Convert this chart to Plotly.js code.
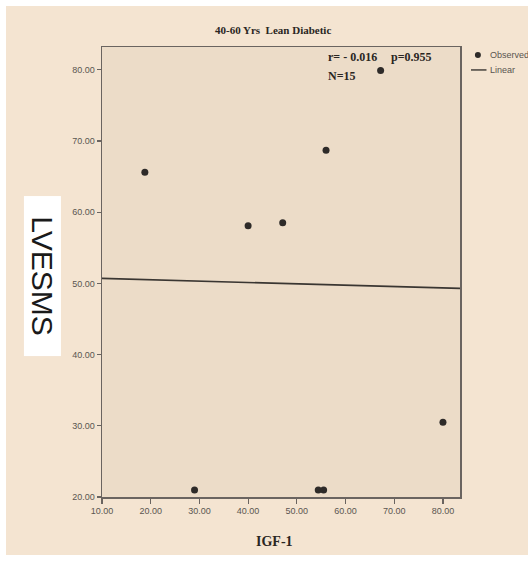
<!DOCTYPE html>
<html>
<head>
<meta charset="utf-8">
<script src="https://cdn.plot.ly/plotly-3.0.1.min.js"></script>
<style>
  html, body { margin: 0; padding: 0; background: #ffffff; width: 528px; height: 561px; overflow: hidden; }
  #chart { position: absolute; left: 6px; top: 6px; width: 522px; height: 549px; }
</style>
</head>
<body>
<div id="chart"></div>
<script>
// Observed points (IGF-1 vs LVESMS)
const igf1   = [18.8, 29.0, 40.0, 47.1, 54.4, 55.5, 56.0, 67.2, 80.0];
const lvesms = [65.6, 21.0, 58.1, 58.5, 21.0, 21.0, 68.7, 79.9, 30.5];
// Linear fit line end points
const fitX = [10, 83.5];
const fitY = [50.7, 49.3];
// Tick values
const xTicks = [10, 20, 30, 40, 50, 60, 70, 80];
const yTicks = [20, 30, 40, 50, 60, 70, 80];

const titleText = "40-60 Yrs  Lean Diabetic";
const xTitle = "IGF-1";
const yTitle = "LVESMS";
const statR = "r= - 0.016";
const statP = "p=0.955";
const statN = "N=15";

const axisCol = "#6a6460";
const tickFont = {family: "'Liberation Sans Narrow', 'Liberation Sans', Arial, sans-serif", size: 9, color: "#5a5550"};
const serifBold = "'Liberation Serif', 'Times New Roman', serif";

const traces = [
  {
    x: fitX, y: fitY, type: "scatter", mode: "lines", name: "Linear",
    line: {color: "#3a3632", width: 1.6}, hoverinfo: "skip"
  },
  {
    x: igf1, y: lvesms, type: "scatter", mode: "markers", name: "Observed",
    marker: {color: "#2e2b29", size: 7, line: {width: 0}}
  }
];

const layout = {
  width: 522, height: 549,
  margin: {l: 96, r: 68, t: 41, b: 58},
  paper_bgcolor: "#f4e4d1",
  plot_bgcolor: "#ecdcc8",
  showlegend: false,
  xaxis: {
    range: [10, 83.5], tickvals: xTicks, tickformat: ".2f",
    showgrid: false, zeroline: false,
    showline: true, mirror: true, linecolor: axisCol, linewidth: 1.5,
    ticks: "outside", ticklen: 5, tickwidth: 1.2, tickcolor: axisCol,
    tickfont: tickFont
  },
  yaxis: {
    range: [20, 83.2], tickvals: yTicks, tickformat: ".2f",
    showgrid: false, zeroline: false,
    showline: true, mirror: true, linecolor: axisCol, linewidth: 1.5,
    ticks: "outside", ticklen: 4, tickwidth: 1.2, tickcolor: axisCol,
    tickfont: tickFont
  },
  annotations: [
    {text: "<b>" + titleText + "</b>", xref: "paper", yref: "paper", x: 0.478, y: 1.038,
     xanchor: "center", yanchor: "middle", showarrow: false,
     font: {family: serifBold, size: 11, color: "#2a2623"}},
    {text: "<b>" + xTitle + "</b>", xref: "paper", yref: "paper", x: 0.483, y: -0.098,
     xanchor: "center", yanchor: "middle", showarrow: false,
     font: {family: serifBold, size: 14, color: "#2a2623"}},
    {text: yTitle, xref: "paper", yref: "paper", x: -0.165, y: 0.49,
     xanchor: "center", yanchor: "middle", showarrow: false, textangle: 90,
     width: 159, height: 36, bgcolor: "#ffffff", borderpad: 0,
     font: {family: "'Liberation Sans', Arial, sans-serif", size: 30, color: "#1a1a1a"}},
    {text: "<b>" + statR + "</b>", xref: "paper", yref: "paper", x: 0.626, y: 0.978,
     xanchor: "left", yanchor: "middle", showarrow: false,
     font: {family: serifBold, size: 12, color: "#2a2623"}},
    {text: "<b>" + statP + "</b>", xref: "paper", yref: "paper", x: 0.802, y: 0.978,
     xanchor: "left", yanchor: "middle", showarrow: false,
     font: {family: serifBold, size: 12, color: "#2a2623"}},
    {text: "<b>" + statN + "</b>", xref: "paper", yref: "paper", x: 0.626, y: 0.936,
     xanchor: "left", yanchor: "middle", showarrow: false,
     font: {family: serifBold, size: 12, color: "#2a2623"}},
    {text: "Observed", xref: "paper", yref: "paper", x: 1.078, y: 0.982,
     xanchor: "left", yanchor: "middle", showarrow: false,
     font: {family: tickFont.family, size: 9, color: "#5a5550"}},
    {text: "Linear", xref: "paper", yref: "paper", x: 1.078, y: 0.949,
     xanchor: "left", yanchor: "middle", showarrow: false,
     font: {family: tickFont.family, size: 9, color: "#5a5550"}}
  ],
  shapes: [
    {type: "circle", xref: "paper", yref: "paper",
     x0: 1.050 - 0.0084, x1: 1.050 + 0.0084, y0: 0.982 - 0.0067, y1: 0.982 + 0.0067,
     fillcolor: "#2e2b29", line: {width: 0}},
    {type: "line", xref: "paper", yref: "paper",
     x0: 1.0307, x1: 1.0740, y0: 0.949, y1: 0.949,
     line: {color: "#3a3632", width: 1.4}}
  ]
};

Plotly.newPlot("chart", traces, layout, {displayModeBar: false, staticPlot: true});
</script>
</body>
</html>
